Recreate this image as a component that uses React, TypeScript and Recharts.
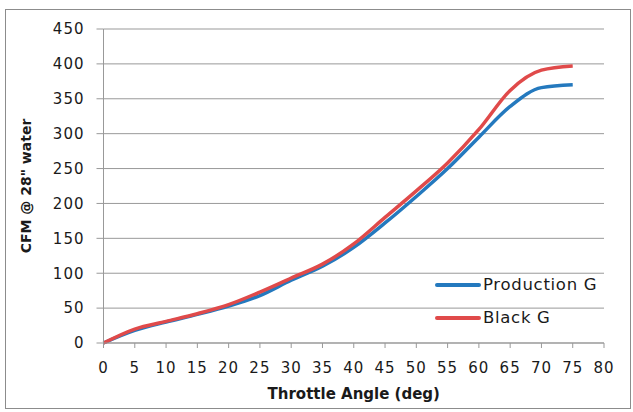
import { LineChart, Line, XAxis, YAxis, CartesianGrid } from "recharts";

// throttle angle (deg)
const angles = [0, 5, 10, 15, 20, 25, 30, 35, 40, 45, 50, 55, 60, 65, 70, 75];
// CFM @ 28" water
const productionG = [0, 18, 30, 41, 53, 68, 90, 110, 137, 172, 210, 250, 295, 339, 366, 370];
const blackG = [0, 20, 31, 42, 55, 73, 93, 113, 142, 180, 218, 258, 306, 362, 391, 397];

const xTicks = [0, 5, 10, 15, 20, 25, 30, 35, 40, 45, 50, 55, 60, 65, 70, 75, 80];
const yTicks = [0, 50, 100, 150, 200, 250, 300, 350, 400, 450];

const data = angles.map((a, i) => ({ angle: a, production: productionG[i], black: blackG[i] }));

const BLUE = "#2479be";
const RED = "#e04a4a";
const FONT = "'DejaVu Sans', sans-serif";

const legendItems = [
  { name: "Production G", color: BLUE },
  { name: "Black G", color: RED },
];

const tickStyle = { fill: "#1a1a1a", fontSize: 15, fontFamily: FONT, letterSpacing: 1 };

export default function App() {
  return (
    <div style={{ position: "absolute", left: 0, top: 0, width: 633, height: 412, background: "#fff" }}>
      <LineChart
        width={633}
        height={412}
        data={data}
        margin={{ top: 29, right: 29, left: 43.5, bottom: 39 }}
        style={{ fontFamily: FONT }}
      >
        <CartesianGrid vertical={false} stroke="#999" strokeWidth={1} />
        <XAxis
          dataKey="angle"
          type="number"
          domain={[0, 80]}
          ticks={xTicks}
          interval={0}
          stroke="#999"
          tickSize={5}
          tickMargin={14}
          tick={tickStyle}
          label={{
            value: "Throttle Angle (deg)",
            position: "bottom",
            offset: 15,
            style: { fill: "#1a1a1a", fontSize: 15, fontWeight: 700, fontFamily: FONT },
          }}
        />
        <YAxis
          domain={[0, 450]}
          ticks={yTicks}
          interval={0}
          stroke="#999"
          tickSize={7}
          tickMargin={12}
          tick={tickStyle}
          label={{
            value: 'CFM @ 28" water',
            angle: -90,
            position: "left",
            offset: 17.5,
            style: { fill: "#1a1a1a", fontSize: 14, fontWeight: 700, fontFamily: FONT, textAnchor: "middle" },
          }}
        />
        <Line
          type="monotone"
          dataKey="production"
          name="Production G"
          stroke={BLUE}
          strokeWidth={3.5}
          dot={false}
          isAnimationActive={false}
        />
        <Line
          type="monotone"
          dataKey="black"
          name="Black G"
          stroke={RED}
          strokeWidth={3.5}
          dot={false}
          isAnimationActive={false}
        />
      </LineChart>
      <div
        style={{
          position: "absolute",
          left: 435,
          top: 268,
          fontFamily: FONT,
          fontSize: 16.5,
          letterSpacing: 0.7,
          color: "#1a1a1a",
        }}
      >
        {legendItems.map((it) => (
          <div key={it.name} style={{ display: "flex", alignItems: "center", height: 33 }}>
            <div style={{ width: 46, height: 4, background: it.color, marginRight: 2, borderRadius: 2 }} />
            <span>{it.name}</span>
          </div>
        ))}
      </div>
      <div
        style={{
          position: "absolute",
          left: 5,
          top: 9,
          width: 624,
          height: 398,
          border: "1px solid #8c8c8c",
          pointerEvents: "none",
          zIndex: 2,
        }}
      />
    </div>
  );
}
